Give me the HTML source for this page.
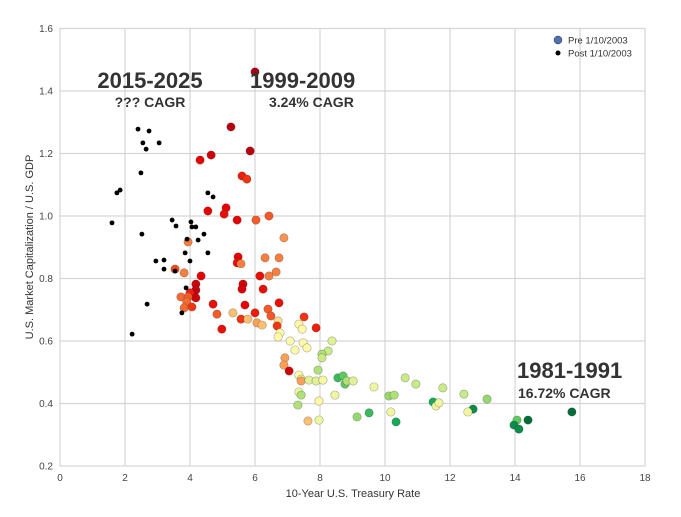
<!DOCTYPE html>
<html><head><meta charset="utf-8"><style>
body{margin:0;background:#fff;}
svg{display:block;font-family:"Liberation Sans",sans-serif;}
</style></head><body>
<svg id="chart" width="681" height="517">
<rect x="0" y="0" width="681" height="517" fill="#fff"/>
<g id="grid"></g><g id="pts"></g><g id="ticks"></g>
<text x="353" y="497" font-size="11" fill="#333" text-anchor="middle">10-Year U.S. Treasury Rate</text>
<text transform="translate(33,247) rotate(-90)" font-size="11" fill="#333" text-anchor="middle">U.S. Market Capitalization / U.S. GDP</text>
<text x="150" y="88" font-size="22" font-weight="bold" fill="#333" text-anchor="middle">2015-2025</text>
<text x="150" y="107" font-size="14" font-weight="bold" fill="#333" text-anchor="middle">??? CAGR</text>
<text x="250" y="88" font-size="22" font-weight="bold" fill="#333">1999-2009</text>
<text x="269" y="107" font-size="14" font-weight="bold" fill="#333">3.24% CAGR</text>
<text x="517" y="378" font-size="22" font-weight="bold" fill="#333">1981-1991</text>
<text x="518" y="398" font-size="14" font-weight="bold" fill="#333">16.72% CAGR</text>
<g>
<circle cx="558" cy="40" r="4" fill="#4c72b0" stroke="#333" stroke-width="0.5"/>
<text x="568" y="43.5" font-size="9.5" fill="#333">Pre 1/10/2003</text>
<circle cx="558" cy="53" r="2.5" fill="#000"/>
<text x="568" y="56.5" font-size="9.5" fill="#333">Post 1/10/2003</text>
</g>
</svg>
<script>
const postX=[2.40,2.74,2.55,3.05,2.65,2.49,1.75,1.85,1.60,2.52,3.45,3.57,4.03,4.06,4.18,4.43,3.91,4.25,4.55,4.71,3.85,4.55,2.95,3.20,3.20,3.54,4.00,3.88,2.68,3.75,2.22];
const postY=[1.278,1.272,1.234,1.234,1.214,1.138,1.074,1.083,0.978,0.942,0.987,0.968,0.981,0.965,0.965,0.942,0.926,0.923,1.074,1.061,0.882,0.882,0.856,0.859,0.830,0.824,0.856,0.770,0.718,0.690,0.622];
const preX=[6.0,5.26,5.85,4.65,4.31,5.6,5.75,5.11,5.05,4.55,5.45,6.03,6.43,6.89,3.94,5.48,5.45,5.57,6.31,6.74,6.65,6.43,6.15,6.25,3.54,3.82,4.34,4.18,4.18,4.15,4.0,4.18,5.63,5.6,3.72,3.94,3.9,3.82,4.06,4.71,5.69,6.74,6.4,4.83,5.32,5.57,5.78,6.0,6.49,6.06,6.22,6.71,6.68,7.51,7.88,7.35,7.45,6.77,6.71,4.98,7.08,7.48,7.6,
7.23,8.37,8.25,8.06,8.06,6.92,6.89,7.05,7.94,7.35,7.42,7.42,7.66,7.88,8.09,8.55,8.71,8.77,8.83,9.02,9.66,10.62,10.95,7.35,7.42,7.32,7.97,8.46,10.12,10.28,7.63,7.97,9.14,9.51,10.18,10.34,
11.78,12.43,13.14,11.48,11.57,11.66,12.71,12.55,14.06,13.97,14.12,14.4,15.75];
const preY=[1.461,1.285,1.208,1.195,1.179,1.128,1.118,1.026,1.006,1.016,0.987,0.987,1.0,0.930,0.917,0.869,0.850,0.847,0.866,0.866,0.821,0.808,0.808,0.766,0.830,0.818,0.808,0.782,0.763,0.741,0.754,0.738,0.782,0.766,0.741,0.741,0.725,0.706,0.709,0.718,0.715,0.722,0.702,0.686,0.690,0.670,0.670,0.690,0.680,0.658,0.651,0.664,0.648,0.677,0.642,0.654,0.638,0.626,0.613,0.638,0.600,0.594,0.578,
0.571,0.600,0.568,0.558,0.546,0.546,0.523,0.504,0.507,0.491,0.478,0.472,0.475,0.472,0.475,0.482,0.488,0.462,0.472,0.472,0.453,0.482,0.462,0.437,0.427,0.395,0.408,0.427,0.424,0.427,0.344,0.347,0.357,0.370,0.373,0.341,
0.450,0.430,0.414,0.405,0.392,0.402,0.382,0.373,0.347,0.331,0.318,0.347,0.373];
const preColor=[0,0.02,0.02,0.05,0.08,0.12,0.15,0.08,0.1,0.08,0.08,0.2,0.2,0.28,0.25,0.08,0.1,0.25,0.25,0.25,0.25,0.25,0.1,0.1,0.18,0.25,0.08,0.05,0.03,0.05,0.12,0.05,0.06,0.06,0.22,0.2,0.22,0.22,0.15,0.1,0.08,0.1,0.2,0.2,0.35,0.15,0.35,0.12,0.2,0.3,0.35,0.4,0.15,0.15,0.12,0.45,0.45,0.45,0.45,0.1,0.45,0.45,0.45,
0.45,0.55,0.6,0.65,0.6,0.3,0.3,0.05,0.65,0.45,0.5,0.3,0.55,0.55,0.48,0.85,0.8,0.8,0.65,0.55,0.5,0.6,0.6,0.5,0.65,0.65,0.45,0.5,0.7,0.65,0.35,0.5,0.7,0.85,0.5,0.9,
0.6,0.6,0.7,0.9,0.5,0.5,0.95,0.5,0.8,0.95,0.95,1.0,1.0];
const xTicks=[0,2,4,6,8,10,12,14,16,18];
const yTicks=[0.2,0.4,0.6,0.8,1.0,1.2,1.4,1.6];
const NS="http://www.w3.org/2000/svg";
const X0=60,X1=645,Y0=466,Y1=28.5;
function sx(v){return X0+(v-0)/18*(X1-X0);}
function sy(v){return Y0-(v-0.2)/1.4*(Y0-Y1);}
const stops=[[0,[170,0,20]],[0.08,[230,0,0]],[0.16,[245,60,20]],[0.24,[245,120,60]],[0.32,[252,175,95]],[0.45,[255,250,170]],[0.55,[225,242,150]],[0.68,[160,220,110]],[0.8,[95,200,95]],[0.9,[20,170,90]],[1,[0,110,55]]];
function col(t){for(let i=1;i<stops.length;i++){if(t<=stops[i][0]){const a=stops[i-1],b=stops[i],f=(t-a[0])/(b[0]-a[0]);return 'rgb('+a[1].map((c,k)=>Math.round(c+(b[1][k]-c)*f)).join(',')+')';}}return 'rgb(0,110,55)';}
function mk(tag,at,parent){const e=document.createElementNS(NS,tag);for(const k in at)e.setAttribute(k,at[k]);parent.appendChild(e);return e;}
const grid=document.getElementById('grid'),ticks=document.getElementById('ticks'),pts=document.getElementById('pts');
mk('rect',{x:X0,y:Y1,width:X1-X0,height:Y0-Y1,fill:'#fff',stroke:'#d0d0d0','stroke-width':1},grid);
xTicks.forEach(v=>{const l=mk('line',{x1:sx(v),x2:sx(v),y1:Y1,y2:Y0,stroke:'#d6d6d6','stroke-width':1.2},grid);


const t=mk('text',{x:sx(v),y:481,'font-size':10,fill:'#444','text-anchor':'middle'},ticks);t.textContent=v;

});
yTicks.forEach(v=>{const l=mk('line',{x1:X0,x2:X1,y1:sy(v),y2:sy(v),stroke:'#d6d6d6','stroke-width':1.2},grid);


const t=mk('text',{x:53,y:sy(v)+3.5,'font-size':10,fill:'#444','text-anchor':'end'},ticks);t.textContent=v.toFixed(1);

});
preX.forEach((v,i)=>{const c=mk('circle',{cx:sx(v),cy:sy(preY[i]),r:4.2,fill:col(preColor[i]),stroke:'rgba(60,60,60,0.45)','stroke-width':0.6},pts);

});
postX.forEach((v,i)=>{const c=mk('circle',{cx:sx(v),cy:sy(postY[i]),r:2.4,fill:'#000'},pts);

});
</script>
</body></html>
